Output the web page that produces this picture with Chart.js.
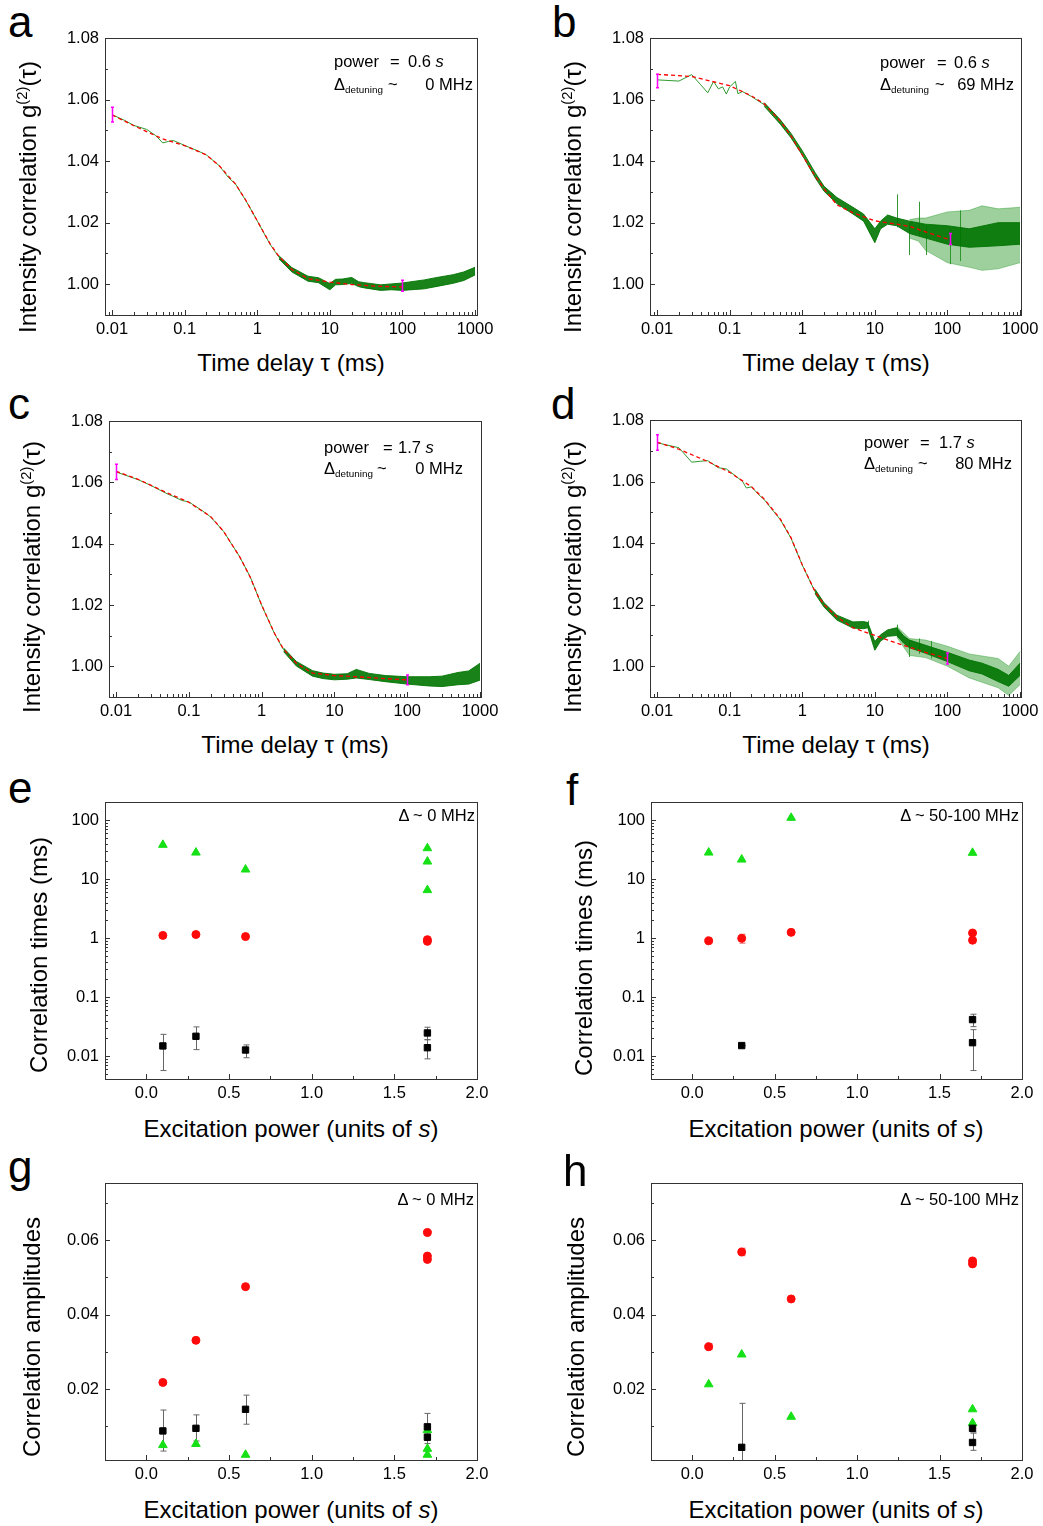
<!doctype html>
<html lang="en">
<head>
<meta charset="utf-8">
<title>Intensity correlation panels</title>
<script src="https://cdn.jsdelivr.net/npm/chart.js"></script>
<style>
    body { margin: 0; background: #fff; width: 1043px; height: 1526px; position: relative; overflow: hidden;
           font-family: "Liberation Sans", Arial, sans-serif; color: #000; }
    canvas { position: absolute; }
    .t { position: absolute; white-space: nowrap; line-height: 1; }
    .letter { font-size: 44px; }
    .ann { font-size: 16.5px; }
    .xt { font-size: 24px; transform: translateX(-50%); }
    .yt { font-size: 24px; transform: translate(-50%, -50%) rotate(-90deg); }
    sub { font-size: 0.6em; vertical-align: -0.32em; line-height: 0; }
    sup { font-size: 0.62em; vertical-align: 0.6em; line-height: 0; }
</style>
</head>
<body>

<canvas id="cA"></canvas>
<canvas id="cB"></canvas>
<canvas id="cC"></canvas>
<canvas id="cD"></canvas>
<canvas id="cE"></canvas>
<canvas id="cF"></canvas>
<canvas id="cG"></canvas>
<canvas id="cH"></canvas>

<!-- panel letters -->
<div class="t letter" style="left:8px;top:0px">a</div>
<div class="t letter" style="left:552px;top:0px">b</div>
<div class="t letter" style="left:8px;top:382px">c</div>
<div class="t letter" style="left:551px;top:382px">d</div>
<div class="t letter" style="left:8px;top:766px">e</div>
<div class="t letter" style="left:566px;top:768px">f</div>
<div class="t letter" style="left:8px;top:1145px">g</div>
<div class="t letter" style="left:563px;top:1149px">h</div>

<!-- axis titles -->
<div class="t yt" style="left:28px;top:197px">Intensity correlation g<sup>(2)</sup>(τ)</div>
<div class="t yt" style="left:573px;top:197px">Intensity correlation g<sup>(2)</sup>(τ)</div>
<div class="t yt" style="left:32px;top:577px">Intensity correlation g<sup>(2)</sup>(τ)</div>
<div class="t yt" style="left:573px;top:577px">Intensity correlation g<sup>(2)</sup>(τ)</div>
<div class="t yt" style="left:39px;top:955px">Correlation times (ms)</div>
<div class="t yt" style="left:584px;top:958px">Correlation times (ms)</div>
<div class="t yt" style="left:32px;top:1337px">Correlation amplitudes</div>
<div class="t yt" style="left:576px;top:1337px">Correlation amplitudes</div>

<div class="t xt" style="left:291px;top:351px">Time delay τ (ms)</div>
<div class="t xt" style="left:836px;top:351px">Time delay τ (ms)</div>
<div class="t xt" style="left:295px;top:733px">Time delay τ (ms)</div>
<div class="t xt" style="left:836px;top:733px">Time delay τ (ms)</div>
<div class="t xt" style="left:291px;top:1117px">Excitation power (units of <i>s</i>)</div>
<div class="t xt" style="left:836px;top:1117px">Excitation power (units of <i>s</i>)</div>
<div class="t xt" style="left:291px;top:1498px">Excitation power (units of <i>s</i>)</div>
<div class="t xt" style="left:836px;top:1498px">Excitation power (units of <i>s</i>)</div>

<!-- annotations -->
<div class="t ann" style="left:334px;top:53px">power</div>
<div class="t ann" style="left:390px;top:53px">=</div>
<div class="t ann" style="left:408px;top:53px">0.6 <i>s</i></div>
<div class="t ann" style="left:334px;top:76px">Δ<sub>detuning</sub></div>
<div class="t ann" style="left:388px;top:76px">~</div>
<div class="t ann" style="right:570px;top:76px">0 MHz</div>

<div class="t ann" style="left:880px;top:54px">power</div>
<div class="t ann" style="left:937px;top:54px">=</div>
<div class="t ann" style="left:954px;top:54px">0.6 <i>s</i></div>
<div class="t ann" style="left:880px;top:76px">Δ<sub>detuning</sub></div>
<div class="t ann" style="left:935px;top:76px">~</div>
<div class="t ann" style="right:29px;top:76px">69 MHz</div>

<div class="t ann" style="left:324px;top:439px">power</div>
<div class="t ann" style="left:383px;top:439px">=</div>
<div class="t ann" style="left:398px;top:439px">1.7 <i>s</i></div>
<div class="t ann" style="left:324px;top:460px">Δ<sub>detuning</sub></div>
<div class="t ann" style="left:377px;top:460px">~</div>
<div class="t ann" style="right:580px;top:460px">0 MHz</div>

<div class="t ann" style="left:864px;top:434px">power</div>
<div class="t ann" style="left:920px;top:434px">=</div>
<div class="t ann" style="left:939px;top:434px">1.7 <i>s</i></div>
<div class="t ann" style="left:864px;top:455px">Δ<sub>detuning</sub></div>
<div class="t ann" style="left:918px;top:455px">~</div>
<div class="t ann" style="right:31px;top:455px">80 MHz</div>

<div class="t ann" style="right:568px;top:807px">Δ ~ 0 MHz</div>
<div class="t ann" style="right:24px;top:807px">Δ ~ 50-100 MHz</div>
<div class="t ann" style="right:569px;top:1191px">Δ ~ 0 MHz</div>
<div class="t ann" style="right:24px;top:1191px">Δ ~ 50-100 MHz</div>

<script>
    // ---------- panel a : power 0.6 s, ~0 MHz ----------
    const aTau = [0.01, 0.015, 0.02, 0.03, 0.04, 0.05, 0.06, 0.07, 0.1, 0.15, 0.2, 0.3, 0.4, 0.5, 0.7, 1, 1.5, 2];
    const aG2 = [1.0551, 1.0532, 1.0516, 1.0503, 1.0483, 1.0459, 1.0464, 1.0467, 1.0451, 1.0434, 1.0420, 1.0385, 1.0347, 1.0326, 1.0271, 1.0206, 1.0130, 1.0087];
    const aBandTau = [2, 3, 5, 7, 10, 12, 15, 20, 25, 30, 50, 70, 100, 150, 200, 300, 500, 700, 1000];
    const aBandLo = [1.0082, 1.0040, 1.0010, 1.0005, 0.9982, 0.9998, 0.9999, 1.0003, 0.9992, 0.9988, 0.9980, 0.9982, 0.9980, 0.9983, 0.9985, 0.9993, 1.0003, 1.0012, 1.0030];
    const aBandHi = [1.0092, 1.0054, 1.0026, 1.0021, 1.0002, 1.0016, 1.0017, 1.0022, 1.0008, 1.0005, 0.9998, 1.0001, 1.0004, 1.0010, 1.0014, 1.0022, 1.0031, 1.0040, 1.0055];
    const aFitTau = [0.01, 0.02, 0.05, 0.1, 0.2, 0.3, 0.5, 0.7, 1, 1.5, 2, 3, 5, 10, 20, 50, 100];
    const aFitG2 = [1.0550, 1.0515, 1.0472, 1.0450, 1.0420, 1.0385, 1.0326, 1.0272, 1.0206, 1.0132, 1.0090, 1.0048, 1.0018, 1.0007, 0.9999, 0.9993, 0.9991];
    const aMarkTau = [0.01, 100];
    const aMarkG2 = [1.0551, 0.9995];
    const aMarkErr = [0.0024, 0.0018];

    // ---------- panel b : power 0.6 s, ~69 MHz ----------
    const bTau = [0.01, 0.02, 0.03, 0.04, 0.05, 0.06, 0.07, 0.08, 0.09, 0.1, 0.12, 0.13, 0.15, 0.2, 0.3, 0.4, 0.5, 0.7, 1, 1.5, 2];
    const bG2 = [1.0664, 1.0660, 1.0681, 1.0648, 1.0622, 1.0659, 1.0635, 1.0641, 1.0618, 1.0641, 1.0659, 1.0619, 1.0626, 1.0610, 1.0583, 1.0548, 1.0527, 1.0483, 1.0427, 1.0355, 1.0309];
    const bBandTau = [0.3, 0.5, 0.7, 1, 1.5, 2, 3, 5, 7, 10, 12, 15, 20, 30, 50, 100, 200, 500, 1000];
    const bBandLo = [1.0578, 1.0520, 1.0476, 1.0420, 1.0347, 1.0302, 1.0262, 1.0228, 1.0205, 1.0135, 1.0180, 1.0195, 1.0190, 1.0165, 1.0150, 1.0130, 1.0120, 1.0125, 1.0130];
    const bBandHi = [1.0590, 1.0534, 1.0490, 1.0434, 1.0363, 1.0318, 1.0282, 1.0250, 1.0228, 1.0180, 1.0205, 1.0225, 1.0215, 1.0205, 1.0195, 1.0190, 1.0180, 1.0200, 1.0200];
    const bOuterTau = [30, 40, 50, 100, 200, 300, 500, 1000];
    const bOuterLo = [1.0150, 1.0140, 1.0110, 1.0070, 1.0055, 1.0045, 1.0050, 1.0070];
    const bOuterHi = [1.0210, 1.0215, 1.0215, 1.0235, 1.0240, 1.0255, 1.0245, 1.0250];
    const bSpikeTau = [20, 30, 40, 50, 110, 150];
    const bSpikeLo = [1.0185, 1.0095, 1.0160, 1.0095, 1.0065, 1.0075];
    const bSpikeHi = [1.0292, 1.0200, 1.0268, 1.0190, 1.0180, 1.0240];
    const bFitTau = [0.01, 0.03, 0.1, 0.2, 0.3, 0.5, 0.7, 1, 1.5, 2, 3, 5, 10, 20, 30, 50, 100];
    const bFitG2 = [1.0682, 1.0675, 1.0645, 1.0612, 1.0586, 1.0530, 1.0482, 1.0420, 1.0352, 1.0310, 1.0258, 1.0232, 1.0206, 1.0195, 1.0188, 1.0170, 1.0147];
    const bMarkTau = [0.01, 110];
    const bMarkG2 = [1.0660, 1.0147];
    const bMarkErr = [0.0022, 0.0018];

    // ---------- panel c : power 1.7 s, ~0 MHz ----------
    const cTau = [0.01, 0.02, 0.03, 0.05, 0.06, 0.08, 0.1, 0.15, 0.2, 0.3, 0.5, 0.7, 1, 1.5, 2];
    const cG2 = [1.0634, 1.0609, 1.0590, 1.0563, 1.0555, 1.0541, 1.0536, 1.0509, 1.0487, 1.0440, 1.0357, 1.0291, 1.0199, 1.0107, 1.0054];
    const cBandTau = [2, 3, 5, 7, 10, 15, 20, 30, 50, 100, 200, 300, 500, 700, 1000];
    const cBandLo = [1.0048, 1.0001, 0.9968, 0.9960, 0.9956, 0.9958, 0.9962, 0.9957, 0.9950, 0.9942, 0.9936, 0.9934, 0.9940, 0.9942, 0.9955];
    const cBandHi = [1.0060, 1.0016, 0.9986, 0.9978, 0.9974, 0.9976, 0.9990, 0.9977, 0.9970, 0.9966, 0.9966, 0.9968, 0.9980, 0.9985, 1.0010];
    const cFitTau = [0.01, 0.02, 0.05, 0.1, 0.2, 0.3, 0.5, 0.7, 1, 1.5, 2, 3, 5, 10, 20, 50, 100];
    const cFitG2 = [1.0636, 1.0610, 1.0566, 1.0535, 1.0488, 1.0440, 1.0357, 1.0290, 1.0200, 1.0108, 1.0056, 1.0010, 0.9978, 0.9970, 0.9966, 0.9960, 0.9956];
    const cMarkTau = [0.01, 100];
    const cMarkG2 = [1.0634, 0.9956];
    const cMarkErr = [0.0025, 0.0016];

    // ---------- panel d : power 1.7 s, ~80 MHz ----------
    const dTau = [0.01, 0.02, 0.03, 0.04, 0.05, 0.07, 0.09, 0.1, 0.15, 0.17, 0.2, 0.25, 0.3, 0.5, 0.7, 1, 1.5];
    const dG2 = [1.0726, 1.0710, 1.0663, 1.0666, 1.0668, 1.0645, 1.0641, 1.0633, 1.0601, 1.0579, 1.0583, 1.0558, 1.0541, 1.0476, 1.0416, 1.0329, 1.0242];
    const dBandTau = [1.5, 2, 3, 5, 7, 8, 10, 12, 15, 20, 25, 30, 50, 100, 200, 300, 500, 700, 1000];
    const dBandLo = [1.0236, 1.0192, 1.0150, 1.0124, 1.0122, 1.0125, 1.0052, 1.0082, 1.0097, 1.0100, 1.0075, 1.0060, 1.0042, 1.0015, 0.9985, 0.9975, 0.9950, 0.9935, 0.9970];
    const dBandHi = [1.0250, 1.0206, 1.0166, 1.0144, 1.0145, 1.0142, 1.0080, 1.0102, 1.0118, 1.0125, 1.0098, 1.0085, 1.0068, 1.0045, 1.0020, 1.0010, 0.9990, 0.9970, 1.0010];
    const dOuterTau = [20, 30, 50, 100, 200, 500, 700, 1000];
    const dOuterLo = [1.0095, 1.0035, 1.0028, 1.0000, 0.9962, 0.9930, 0.9905, 0.9940];
    const dOuterHi = [1.0130, 1.0090, 1.0085, 1.0065, 1.0040, 1.0025, 1.0000, 1.0048];
    const dSpikeTau = [8, 20, 30, 40, 60];
    const dSpikeLo = [1.0120, 1.0095, 1.0030, 1.0040, 1.0025];
    const dSpikeHi = [1.0148, 1.0135, 1.0085, 1.0090, 1.0082];
    const dFitTau = [0.01, 0.02, 0.05, 0.1, 0.2, 0.3, 0.5, 0.7, 1, 1.5, 2, 3, 5, 10, 20, 50, 100];
    const dFitG2 = [1.0728, 1.0705, 1.0665, 1.0630, 1.0583, 1.0543, 1.0478, 1.0418, 1.0330, 1.0243, 1.0200, 1.0160, 1.0125, 1.0100, 1.0075, 1.0045, 1.0025];
    const dMarkTau = [0.01, 100];
    const dMarkG2 = [1.0727, 1.0025];
    const dMarkErr = [0.0025, 0.0018];

    // ---------- panel e : correlation times, ~0 MHz ----------
    const eTriX = [0.1, 0.3, 0.6, 1.7, 1.7, 1.7];
    const eTriY = [38, 28.1, 14.5, 33.3, 19.8, 6.5];
    const eCircX = [0.1, 0.3, 0.6, 1.7, 1.7];
    const eCircY = [1.11, 1.15, 1.06, 0.88, 0.94];
    const eSqX = [0.1, 0.3, 0.6, 1.7, 1.7];
    const eSqY = [0.0149, 0.0217, 0.0127, 0.0247, 0.0139];
    const eSqLo = [0.0057, 0.0129, 0.0094, 0.0190, 0.0090];
    const eSqHi = [0.0234, 0.0313, 0.0155, 0.0309, 0.0190];

    // ---------- panel f : correlation times, 50-100 MHz ----------
    const fTriX = [0.1, 0.3, 0.6, 1.7];
    const fTriY = [28.1, 21.4, 109, 27.8];
    const fCircX = [0.1, 0.3, 0.6, 1.7, 1.7];
    const fCircY = [0.90, 0.99, 1.25, 1.22, 0.92];
    const fCircLo = [0.87, 0.82, 1.21, 1.18, 0.89];
    const fCircHi = [0.93, 1.16, 1.29, 1.26, 0.95];
    const fSqX = [0.3, 1.7, 1.7];
    const fSqY = [0.0151, 0.0416, 0.0169];
    const fSqLo = [0.0149, 0.0316, 0.0057];
    const fSqHi = [0.0153, 0.0513, 0.0281];

    // ---------- panel g : amplitudes, ~0 MHz ----------
    const gCircX = [0.1, 0.3, 0.6, 1.7, 1.7, 1.7];
    const gCircY = [0.0218, 0.0331, 0.0475, 0.0620, 0.0557, 0.0548];
    const gSqX = [0.1, 0.3, 0.6, 1.7, 1.7];
    const gSqY = [0.0088, 0.0095, 0.0146, 0.0099, 0.0071];
    const gSqLo = [0.0034, 0.0061, 0.0106, 0.0080, 0.0054];
    const gSqHi = [0.0144, 0.0131, 0.0184, 0.0135, 0.0088];
    const gTriX = [0.1, 0.3, 0.6, 1.7, 1.7, 1.7];
    const gTriY = [0.0050, 0.0053, 0.0024, 0.0090, 0.0040, 0.0024];

    // ---------- panel h : amplitudes, 50-100 MHz ----------
    const hCircX = [0.1, 0.3, 0.6, 1.7, 1.7];
    const hCircY = [0.0314, 0.0568, 0.0442, 0.0544, 0.0536];
    const hCircLo = [0.0306, 0.0558, 0.0438, 0.0540, 0.0532];
    const hCircHi = [0.0322, 0.0578, 0.0446, 0.0548, 0.0540];
    const hTriX = [0.1, 0.3, 0.6, 1.7, 1.7];
    const hTriY = [0.0213, 0.0293, 0.0126, 0.0146, 0.0109];
    const hSqX = [0.3, 1.7, 1.7];
    const hSqY = [0.0044, 0.0095, 0.0057];
    const hSqLo = [0.0000, 0.0085, 0.0036];
    const hSqHi = [0.0162, 0.0105, 0.0082];

    // tick labels
    const tauTicks = [0.01, 0.1, 1, 10, 100, 1000];
    const g2Ticks = [1.00, 1.02, 1.04, 1.06, 1.08];
    const g2Minor = [1.01, 1.03, 1.05, 1.07];
    const powerTicks = [0, 0.5, 1.0, 1.5, 2.0];
    const powerMinor = [0.25, 0.75, 1.25, 1.75];
    const timeTicks = [0.01, 0.1, 1, 10, 100];
    const ampTicks = [0.02, 0.04, 0.06];
    const ampMinor = [0.01, 0.03, 0.05, 0.07];

    // ---------- layout ----------
    const PAD_L = 70, PAD_T = 14, PAD_R = 32, PAD_B = 32;
    const boxes = {
        cA: [105, 38, 477, 315], cB: [650, 38, 1021, 315],
        cC: [109, 421, 481, 697], cD: [650, 420, 1021, 697],
        cE: [105, 802, 477, 1079], cF: [651, 802, 1022, 1079],
        cG: [105, 1183, 477, 1460], cH: [651, 1183, 1022, 1460]
    };
    const TICK_FONT = {size: 16.5, family: '"Liberation Sans", Arial, sans-serif'};

    Chart.defaults.font.family = '"Liberation Sans", Arial, sans-serif';
    Chart.defaults.font.size = 16;
    Chart.defaults.color = '#000';

    function logMinor(lo, hi) {
        const out = [];
        for (let k = Math.floor(Math.log10(lo)); k <= Math.ceil(Math.log10(hi)); k++) {
            for (let m = 2; m <= 9; m++) {
                const v = m * Math.pow(10, k);
                if (v > lo && v < hi) out.push(v);
            }
        }
        return out;
    }

    const tickMarks = {};

    const frameTicks = {
        id: 'frameTicks',
        afterDatasetsDraw(chart) {
            const {ctx, chartArea: a} = chart;
            const t = tickMarks[chart.canvas.id];
            const xs = chart.scales.x, ys = chart.scales.y;
            ctx.save();
            ctx.strokeStyle = '#333';
            ctx.lineWidth = 1;
            ctx.beginPath();
            const xt = (v, len) => {
                const p = Math.round(xs.getPixelForValue(v)) + 0.5;
                if (p < a.left || p > a.right) return;
                ctx.moveTo(p, a.bottom); ctx.lineTo(p, a.bottom - len);
            };
            const yt = (v, len) => {
                const p = Math.round(ys.getPixelForValue(v)) + 0.5;
                if (p < a.top || p > a.bottom) return;
                ctx.moveTo(a.left, p); ctx.lineTo(a.left + len, p);
            };
            t.xMajor.forEach(v => xt(v, 5));
            t.xMinor.forEach(v => xt(v, 3));
            t.yMajor.forEach(v => yt(v, 5));
            t.yMinor.forEach(v => yt(v, 3));
            ctx.stroke();
            ctx.strokeRect(Math.round(a.left) + 0.5, Math.round(a.top) + 0.5, Math.round(a.width), Math.round(a.height));
            ctx.restore();
        }
    };

    // vertical bars (error bars, noise spikes) in data units; errTop ones go over the lines
    function drawBars(chart, onTop) {
        const {ctx, chartArea: a} = chart;
        const xs = chart.scales.x, ys = chart.scales.y;
        chart.data.datasets.forEach(ds => {
            if (!ds.errLo || !!ds.errTop !== onTop) return;
            ctx.save();
            ctx.strokeStyle = ds.errColor;
            ctx.lineWidth = ds.errWidth || 1;
            ctx.beginPath();
            ds.data.forEach((p, i) => {
                const x = Math.round(xs.getPixelForValue(p.x)) + 0.5;
                const y1 = Math.min(a.bottom, ys.getPixelForValue(ds.errLo[i]));
                const y2 = Math.max(a.top, ys.getPixelForValue(ds.errHi[i]));
                const c = ds.capW;
                ctx.moveTo(x, y1); ctx.lineTo(x, y2);
                if (c > 0) {
                    if (y1 < a.bottom) { ctx.moveTo(x - c, y1); ctx.lineTo(x + c, y1); }
                    ctx.moveTo(x - c, y2); ctx.lineTo(x + c, y2);
                }
            });
            ctx.stroke();
            ctx.restore();
        });
    }
    const errorBars = {
        id: 'errorBars',
        beforeDatasetsDraw(chart) { drawBars(chart, false); },
        afterDatasetsDraw(chart) { drawBars(chart, true); }
    };

    function pts(xs, ys) {
        return xs.map((x, i) => ({x: x, y: ys[i]}));
    }

    function axisBase(extra) {
        return Object.assign({
            grid: {display: false, drawTicks: false},
            border: {display: false}
        }, extra);
    }

    function makeChart(id, scales, datasets, marks) {
        const [l, t, r, b] = boxes[id];
        const cv = document.getElementById(id);
        cv.width = (r - l) + PAD_L + PAD_R;
        cv.height = (b - t) + PAD_T + PAD_B;
        cv.style.left = (l - PAD_L) + 'px';
        cv.style.top = (t - PAD_T) + 'px';
        tickMarks[id] = marks;
        scales.x.afterFit = s => { s.height = PAD_B; s.paddingLeft = 0; s.paddingRight = 0; };
        scales.y.afterFit = s => { s.width = PAD_L; s.paddingTop = 0; s.paddingBottom = 0; };
        return new Chart(cv, {
            type: 'line',
            data: {datasets: datasets},
            options: {
                responsive: false,
                animation: false,
                devicePixelRatio: 1,
                layout: {padding: {top: PAD_T, right: PAD_R, left: 0, bottom: 0}},
                plugins: {legend: {display: false}, tooltip: {enabled: false}},
                scales: scales
            },
            plugins: [errorBars, frameTicks]
        });
    }

    function tauScale(xMax) {
        return axisBase({
            type: 'logarithmic', min: 0.008, max: xMax,
            afterBuildTicks: s => { s.ticks = tauTicks.map(v => ({value: v})); },
            ticks: {autoSkip: false, maxRotation: 0, minRotation: 0, padding: 5, color: '#000', font: TICK_FONT,
                    callback: v => String(v)}
        });
    }

    function g2Scale() {
        return axisBase({
            type: 'linear', min: 0.99, max: 1.08,
            afterBuildTicks: s => { s.ticks = g2Ticks.map(v => ({value: v})); },
            ticks: {autoSkip: false, padding: 6, color: '#000', font: TICK_FONT, callback: v => v.toFixed(2)}
        });
    }

    const DARK = 'rgba(0,116,0,0.9)';
    function curvePanel(id, xMax, p) {
        const datasets = [
            {data: pts(p.mTau, p.mG2), showLine: false, pointRadius: 0, errTop: true,
             errLo: p.mG2.map((v, i) => v - p.mErr[i]), errHi: p.mG2.map((v, i) => v + p.mErr[i]),
             errColor: '#ff00ff', capW: 1.5, errWidth: 1.5},
            {data: pts(p.fTau, p.fG2), borderColor: '#ff0000', borderDash: [4, 3], borderWidth: 1.3, pointRadius: 0},
            {data: pts(p.tau, p.g2), borderColor: '#2f9a2f', borderWidth: 1, pointRadius: 0},
            {data: pts(p.bTau, p.bHi), borderColor: DARK, borderWidth: 1, pointRadius: 0,
             fill: '+1', backgroundColor: DARK},
            {data: pts(p.bTau, p.bLo), borderColor: DARK, borderWidth: 1, pointRadius: 0, fill: false}
        ];
        if (p.oTau) {
            datasets.push(
                {data: pts(p.oTau, p.oHi), borderColor: 'rgba(0,140,0,0.35)', borderWidth: 1, pointRadius: 0,
                 fill: '+1', backgroundColor: 'rgba(40,150,40,0.45)'},
                {data: pts(p.oTau, p.oLo), borderColor: 'rgba(0,140,0,0.35)', borderWidth: 1, pointRadius: 0, fill: false},
                {data: pts(p.sTau, p.sLo), showLine: false, pointRadius: 0,
                 errLo: p.sLo, errHi: p.sHi, errColor: 'rgba(0,125,0,0.8)', capW: 0}
            );
        }
        makeChart(id, {x: tauScale(xMax), y: g2Scale()}, datasets, {
            xMajor: tauTicks, xMinor: logMinor(0.008, xMax),
            yMajor: g2Ticks, yMinor: g2Minor
        });
    }

    curvePanel('cA', 1065, {tau: aTau, g2: aG2, bTau: aBandTau, bLo: aBandLo, bHi: aBandHi,
        fTau: aFitTau, fG2: aFitG2, mTau: aMarkTau, mG2: aMarkG2, mErr: aMarkErr});
    curvePanel('cB', 1032, {tau: bTau, g2: bG2, bTau: bBandTau, bLo: bBandLo, bHi: bBandHi,
        oTau: bOuterTau, oLo: bOuterLo, oHi: bOuterHi, sTau: bSpikeTau, sLo: bSpikeLo, sHi: bSpikeHi,
        fTau: bFitTau, fG2: bFitG2, mTau: bMarkTau, mG2: bMarkG2, mErr: bMarkErr});
    curvePanel('cC', 1032, {tau: cTau, g2: cG2, bTau: cBandTau, bLo: cBandLo, bHi: cBandHi,
        fTau: cFitTau, fG2: cFitG2, mTau: cMarkTau, mG2: cMarkG2, mErr: cMarkErr});
    curvePanel('cD', 1032, {tau: dTau, g2: dG2, bTau: dBandTau, bLo: dBandLo, bHi: dBandHi,
        oTau: dOuterTau, oLo: dOuterLo, oHi: dOuterHi, sTau: dSpikeTau, sLo: dSpikeLo, sHi: dSpikeHi,
        fTau: dFitTau, fG2: dFitG2, mTau: dMarkTau, mG2: dMarkG2, mErr: dMarkErr});

    // marker styles
    const GREEN = '#16e016', RED = '#ff0a0a', BLACK = '#000';
    function tri(xs, ys) {
        return {data: pts(xs, ys), showLine: false, pointStyle: 'triangle', pointRadius: 5,
                backgroundColor: GREEN, borderColor: GREEN, borderWidth: 1};
    }
    function circ(xs, ys, lo, hi) {
        const d = {data: pts(xs, ys), showLine: false, pointStyle: 'circle', pointRadius: 4,
                   backgroundColor: RED, borderColor: RED, borderWidth: 1};
        if (lo) { d.errLo = lo; d.errHi = hi; d.errColor = '#e86060'; d.capW = 3; }
        return d;
    }
    function sq(xs, ys, lo, hi) {
        return {data: pts(xs, ys), showLine: false, pointStyle: 'rect', pointRadius: 4.5,
                backgroundColor: BLACK, borderColor: BLACK, borderWidth: 1,
                errLo: lo, errHi: hi, errColor: '#666', capW: 3};
    }

    function powerScale() {
        return axisBase({
            type: 'linear', min: -0.25, max: 2.0,
            afterBuildTicks: s => { s.ticks = powerTicks.map(v => ({value: v})); },
            ticks: {autoSkip: false, maxRotation: 0, minRotation: 0, padding: 5, color: '#000', font: TICK_FONT,
                    callback: v => v.toFixed(1)}
        });
    }
    function timeScale() {
        return axisBase({
            type: 'logarithmic', min: 0.0041, max: 202,
            afterBuildTicks: s => { s.ticks = timeTicks.map(v => ({value: v})); },
            ticks: {autoSkip: false, padding: 6, color: '#000', font: TICK_FONT, callback: v => String(v)}
        });
    }
    function ampScale() {
        return axisBase({
            type: 'linear', min: 0.001, max: 0.0753,
            afterBuildTicks: s => { s.ticks = ampTicks.map(v => ({value: v})); },
            ticks: {autoSkip: false, padding: 6, color: '#000', font: TICK_FONT, callback: v => v.toFixed(2)}
        });
    }

    const timeMarks = {xMajor: powerTicks, xMinor: powerMinor, yMajor: timeTicks, yMinor: logMinor(0.0041, 202)};
    const ampMarks = {xMajor: powerTicks, xMinor: powerMinor, yMajor: ampTicks, yMinor: ampMinor};

    makeChart('cE', {x: powerScale(), y: timeScale()},
        [sq(eSqX, eSqY, eSqLo, eSqHi), circ(eCircX, eCircY), tri(eTriX, eTriY)], timeMarks);
    makeChart('cF', {x: powerScale(), y: timeScale()},
        [sq(fSqX, fSqY, fSqLo, fSqHi), circ(fCircX, fCircY, fCircLo, fCircHi), tri(fTriX, fTriY)], timeMarks);
    makeChart('cG', {x: powerScale(), y: ampScale()},
        [sq(gSqX, gSqY, gSqLo, gSqHi), tri(gTriX, gTriY), circ(gCircX, gCircY)], ampMarks);
    makeChart('cH', {x: powerScale(), y: ampScale()},
        [sq(hSqX, hSqY, hSqLo, hSqHi), tri(hTriX, hTriY), circ(hCircX, hCircY, hCircLo, hCircHi)], ampMarks);
</script>
</body>
</html>
